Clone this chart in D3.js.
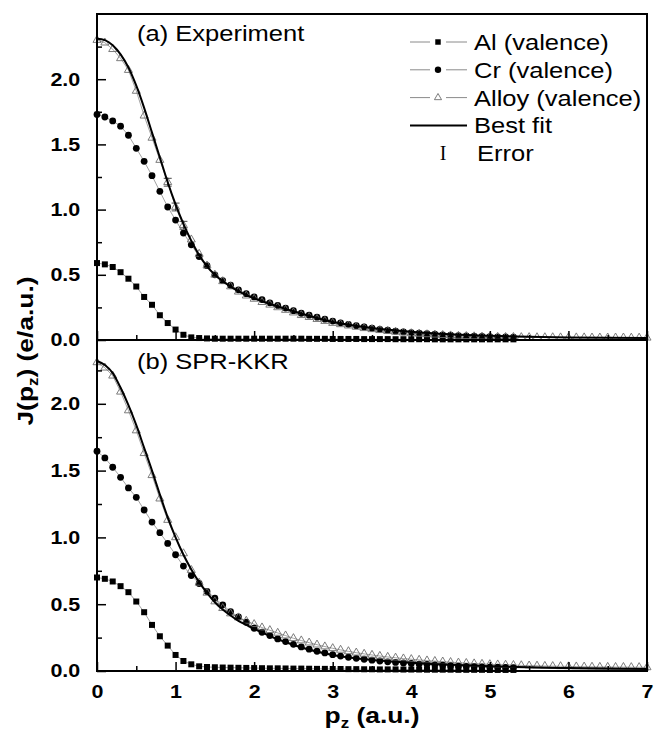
<!DOCTYPE html>
<html>
<head>
<meta charset="utf-8">
<script src="https://cdn.jsdelivr.net/npm/d3@7/dist/d3.min.js"></script>
<style>
body { margin: 0; background: #fff; }
svg { display: block; }
</style>
</head>
<body>
<script>
// momentum grid (a.u.)
const pz = [0.0,0.1,0.2,0.3,0.4,0.5,0.6,0.7,0.8,0.9,
    1.0,1.1,1.2,1.3,1.4,1.5,1.6,1.7,1.8,1.9,
    2.0,2.1,2.2,2.3,2.4,2.5,2.6,2.7,2.8,2.9,
    3.0,3.1,3.2,3.3,3.4,3.5,3.6,3.7,3.8,3.9,
    4.0,4.1,4.2,4.3,4.4,4.5,4.6,4.7,4.8,4.9,
    5.0,5.1,5.2,5.3,5.4,5.5,5.6,5.7,5.8,5.9,
    6.0,6.1,6.2,6.3,6.4,6.5,6.6,6.7,6.8,6.9,
    7.0];

// (a) Experiment
const alA = [0.59,0.58,0.56,0.52,0.47,0.41,0.33,0.27,0.19,0.13,
    0.08,0.04,0.02,0.015,0.012,0.01,0.01,0.01,0.01,0.01,
    0.01,0.01,0.01,0.01,0.01,0.01,0.01,0.009,0.009,0.009,
    0.008,0.008,0.008,0.008,0.007,0.007,0.007,0.007,0.006,0.006,
    0.006,0.006,0.006,0.005,0.005,0.005,0.005,0.005,0.005,0.005,
    0.005,0.005,0.005,0.005];
const crA = [1.73,1.71,1.68,1.64,1.57,1.47,1.37,1.26,1.14,1.02,
    0.92,0.82,0.73,0.64,0.57,0.50,0.455,0.42,0.385,0.355,
    0.33,0.31,0.285,0.265,0.245,0.225,0.205,0.19,0.175,0.16,
    0.145,0.132,0.12,0.11,0.10,0.09,0.082,0.075,0.068,0.062,
    0.057,0.052,0.048,0.044,0.04,0.037,0.034,0.031,0.029,0.027,
    0.025,0.024,0.023,0.022];
const alloyA = [2.30,2.28,2.23,2.16,2.07,1.91,1.72,1.55,1.38,1.21,
    1.02,0.88,0.77,0.66,0.57,0.50,0.45,0.41,0.37,0.34,
    0.315,0.29,0.27,0.25,0.23,0.21,0.19,0.175,0.16,0.145,
    0.13,0.12,0.11,0.10,0.09,0.082,0.075,0.068,0.062,0.056,
    0.051,0.047,0.043,0.04,0.037,0.034,0.031,0.029,0.027,0.025,
    0.024,0.023,0.022,0.022,0.021,0.021,0.02,0.02,0.02,0.019,
    0.019,0.019,0.019,0.018,0.018,0.018,0.018,0.018,0.017,0.017,
    0.017];

// (b) SPR-KKR
const alB = [0.70,0.69,0.67,0.635,0.59,0.52,0.44,0.345,0.26,0.19,
    0.12,0.075,0.05,0.035,0.03,0.028,0.026,0.025,0.024,0.023,
    0.022,0.021,0.02,0.02,0.019,0.018,0.018,0.017,0.016,0.016,
    0.015,0.015,0.014,0.014,0.013,0.013,0.012,0.012,0.012,0.011,
    0.011,0.011,0.01,0.01,0.01,0.01,0.009,0.009,0.009,0.009,
    0.008,0.008,0.008,0.008];
const crB = [1.645,1.595,1.525,1.45,1.37,1.30,1.205,1.115,1.035,0.955,
    0.87,0.785,0.715,0.655,0.595,0.545,0.495,0.445,0.405,0.365,
    0.32,0.29,0.265,0.24,0.22,0.20,0.18,0.163,0.148,0.135,
    0.122,0.112,0.103,0.095,0.088,0.081,0.075,0.069,0.064,0.06,
    0.056,0.052,0.049,0.046,0.043,0.04,0.037,0.035,0.033,0.031,
    0.029,0.028,0.027,0.026];
const alloyB = [2.31,2.27,2.21,2.09,1.95,1.80,1.63,1.465,1.29,1.13,
    1.00,0.88,0.755,0.66,0.585,0.52,0.47,0.43,0.40,0.375,
    0.35,0.325,0.305,0.285,0.265,0.245,0.228,0.212,0.197,0.183,
    0.17,0.158,0.147,0.137,0.128,0.12,0.112,0.105,0.099,0.093,
    0.088,0.083,0.078,0.074,0.07,0.066,0.062,0.059,0.056,0.053,
    0.05,0.048,0.046,0.044,0.042,0.04,0.039,0.037,0.036,0.035,
    0.034,0.033,0.032,0.031,0.03,0.03,0.029,0.029,0.028,0.028,
    0.027];

// best fit curves
const fitP = [0.0,0.1,0.2,0.3,0.4,0.5,0.6,0.7,0.8,0.9,1.0,
    1.1,1.2,1.3,1.4,1.5,1.6,1.7,1.8,1.9,2.0,
    2.5,3.0,3.5,4.0,4.5,5.0,5.5,6.0,6.5,7.0];
const fitA = [2.31,2.30,2.26,2.19,2.09,1.95,1.78,1.59,1.40,1.21,1.04,
    0.89,0.76,0.65,0.565,0.50,0.45,0.41,0.375,0.345,0.32,
    0.22,0.138,0.092,0.063,0.044,0.032,0.025,0.02,0.017,0.015];
const fitB = [2.32,2.29,2.23,2.12,1.99,1.84,1.67,1.50,1.32,1.15,1.00,
    0.87,0.76,0.665,0.585,0.515,0.46,0.415,0.375,0.345,0.315,
    0.195,0.12,0.083,0.062,0.046,0.036,0.028,0.022,0.018,0.015];

// error bars on the measured alloy profile
const errP = [0.9, 1.0, 1.1];
const errA = [0.03, 0.03, 0.03];

const yTicks = [0, 0.5, 1.0, 1.5, 2.0];
const yMinor = [0.25, 0.75, 1.25, 1.75, 2.25];
const xTicks = [0, 1, 2, 3, 4, 5, 6, 7];
const xMinor = [0.5, 1.5, 2.5, 3.5, 4.5, 5.5, 6.5];
const legendLabels = ['Al (valence)', 'Cr (valence)', 'Alloy (valence)', 'Best fit', 'Error'];

const chartConfig = {
    w: 655,
    h: 733,
    left: 97,
    right: 647,
    top: 14,
    mid: 340,
    bottom: 671
};

const font = "'Liberation Sans', Arial, sans-serif";
const wide = 1.16; // the original lettering is a bit wider than Liberation Sans

function pts(vals) {
    return vals.map(function(v, i) { return { p: pz[i], v: v }; });
}

// text placed at (x, y) and stretched horizontally
function label(sel, x, y, str, size, bold) {
    return sel.append('text')
        .attr('transform', 'translate(' + x + ',' + y + ') scale(' + wide + ',1)')
        .attr('font-family', font)
        .attr('font-weight', bold ? 'bold' : 'normal')
        .attr('font-size', size + 'px')
        .attr('fill', '#000')
        .text(str);
}

function drawPanel(svg, x, y, series, fit, title, titleY, showXLabels) {

    const g = svg.append('g');

    // connecting lines
    const thin = d3.line()
        .x(function(d) { return x(d.p); })
        .y(function(d) { return y(d.v); });

    [series.al, series.cr, series.alloy].forEach(function(s) {
        g.append('path')
            .datum(pts(s))
            .attr('d', thin)
            .attr('fill', 'none')
            .attr('stroke', '#8a8a8a')
            .attr('stroke-width', 0.8);
    });

    // markers
    g.selectAll('.al')
        .data(pts(series.al))
        .enter()
        .append('path')
        .attr('d', d3.symbol().type(d3.symbolSquare).size(36))
        .attr('transform', function(d) { return 'translate(' + x(d.p) + ',' + y(d.v) + ')'; })
        .attr('fill', '#000');

    g.selectAll('.cr')
        .data(pts(series.cr))
        .enter()
        .append('circle')
        .attr('cx', function(d) { return x(d.p); })
        .attr('cy', function(d) { return y(d.v); })
        .attr('r', 3.4)
        .attr('fill', '#000');

    g.selectAll('.alloy')
        .data(pts(series.alloy))
        .enter()
        .append('path')
        .attr('d', d3.symbol().type(d3.symbolTriangle).size(28))
        .attr('transform', function(d) { return 'translate(' + x(d.p) + ',' + y(d.v) + ')'; })
        .attr('fill', 'none')
        .attr('stroke', '#6e6e6e')
        .attr('stroke-width', 0.9);

    // error bars
    if (series.err) {
        series.err.forEach(function(e, i) {
            const idx = pz.indexOf(errP[i]);
            const v = series.alloy[idx];
            const xp = x(errP[i]);
            g.append('path')
                .attr('d', 'M' + (xp - 4) + ',' + y(v + e) + 'H' + (xp + 4) +
                    'M' + xp + ',' + y(v + e) + 'V' + y(v - e) +
                    'M' + (xp - 4) + ',' + y(v - e) + 'H' + (xp + 4))
                .attr('stroke', '#333')
                .attr('stroke-width', 0.9)
                .attr('fill', 'none');
        });
    }

    // best fit
    const fitLine = d3.line()
        .x(function(d) { return x(d.p); })
        .y(function(d) { return y(d.v); })
        .curve(d3.curveMonotoneX);

    g.append('path')
        .datum(fitP.map(function(p, i) { return { p: p, v: fit[i] }; }))
        .attr('d', fitLine)
        .attr('fill', 'none')
        .attr('stroke', '#000')
        .attr('stroke-width', 2);

    // AXES
    const yAxis = d3.axisLeft(y).tickValues(yTicks).tickSize(-9).tickPadding(14.5)
        .tickFormat(d3.format('.1f'));
    const yAxisMinor = d3.axisLeft(y).tickValues(yMinor).tickSize(-5).tickFormat('');

    svg.append('g')
        .attr('transform', 'translate(' + chartConfig.left + ',0)')
        .call(yAxis);
    svg.append('g')
        .attr('transform', 'translate(' + chartConfig.left + ',0)')
        .call(yAxisMinor);

    const baseY = y(0);
    const xAxis = d3.axisBottom(x).tickValues(xTicks).tickSize(-9).tickPadding(14)
        .tickFormat(showXLabels ? d3.format('d') : '');
    const xAxisMinor = d3.axisBottom(x).tickValues(xMinor).tickSize(-5).tickFormat('');

    svg.append('g')
        .attr('transform', 'translate(0,' + baseY + ')')
        .call(xAxis);
    svg.append('g')
        .attr('transform', 'translate(0,' + baseY + ')')
        .call(xAxisMinor);

    svg.selectAll('.domain').remove();
    svg.selectAll('.tick line').attr('stroke', '#000').attr('stroke-width', 1.5);
    svg.selectAll('.tick text')
        .attr('font-family', font)
        .attr('font-weight', 'bold')
        .attr('font-size', '18.5px')
        .attr('transform', 'scale(' + wide + ',1)')
        .attr('fill', '#000');

    // panel label
    label(svg, 137, titleY, title, 22, false);
}

function d3Draw() {

    const svg = d3.select('body')
        .append('svg')
        .attr('width', chartConfig.w)
        .attr('height', chartConfig.h);

    const xScale = d3.scaleLinear()
        .domain([0, 7])
        .range([chartConfig.left, chartConfig.right]);

    const yA = d3.scaleLinear()
        .domain([0, 2.5])
        .range([chartConfig.mid, chartConfig.top]);

    const yB = d3.scaleLinear()
        .domain([0, 2.5])
        .range([chartConfig.bottom, 337]);

    drawPanel(svg, xScale, yA, { al: alA, cr: crA, alloy: alloyA, err: errA }, fitA,
        '(a) Experiment', 41, false);
    drawPanel(svg, xScale, yB, { al: alB, cr: crB, alloy: alloyB }, fitB,
        '(b) SPR-KKR', 369, true);

    // FRAME
    svg.append('rect')
        .attr('x', chartConfig.left)
        .attr('y', chartConfig.top)
        .attr('width', chartConfig.right - chartConfig.left)
        .attr('height', chartConfig.bottom - chartConfig.top)
        .attr('fill', 'none')
        .attr('stroke', '#000')
        .attr('stroke-width', 2);
    svg.append('line')
        .attr('x1', chartConfig.left)
        .attr('x2', chartConfig.right)
        .attr('y1', chartConfig.mid)
        .attr('y2', chartConfig.mid)
        .attr('stroke', '#000')
        .attr('stroke-width', 2);

    // AXIS TITLES
    const yt = svg.append('text')
        .attr('transform', 'translate(33,351) rotate(-90) scale(1.2,1)')
        .attr('text-anchor', 'middle')
        .attr('font-family', font)
        .attr('font-weight', 'bold')
        .attr('font-size', '22px')
        .attr('fill', '#000');
    yt.append('tspan').text('J(p');
    yt.append('tspan').attr('font-size', '14px').attr('dy', 5).text('z');
    yt.append('tspan').attr('dy', -5).text(') (e/a.u.)');

    const xt = svg.append('text')
        .attr('transform', 'translate(' + (chartConfig.left + chartConfig.right) / 2 + ',723) scale(1.2,1)')
        .attr('text-anchor', 'middle')
        .attr('font-family', font)
        .attr('font-weight', 'bold')
        .attr('font-size', '22px')
        .attr('fill', '#000');
    xt.append('tspan').text('p');
    xt.append('tspan').attr('font-size', '14px').attr('dy', 5).text('z');
    xt.append('tspan').attr('dy', -5).text(' (a.u.)');

    // LEGEND
    const lg = svg.append('g');
    const lx0 = 410, lx1 = 467, lxm = 438, ltx = 474;
    legendLabels.forEach(function(name, i) {
        const cy = 42 + i * 27.8;
        const row = lg.append('g');
        if (i < 3) {
            row.append('path')
                .attr('d', 'M' + lx0 + ',' + cy + 'H' + (lxm - 8) + 'M' + (lxm + 8) + ',' + cy + 'H' + lx1)
                .attr('stroke', '#8a8a8a')
                .attr('stroke-width', 1);
        }
        if (i === 0) {
            row.append('path')
                .attr('d', d3.symbol().type(d3.symbolSquare).size(30))
                .attr('transform', 'translate(' + lxm + ',' + cy + ')')
                .attr('fill', '#000');
        } else if (i === 1) {
            row.append('circle').attr('cx', lxm).attr('cy', cy).attr('r', 3.2).attr('fill', '#000');
        } else if (i === 2) {
            row.append('path')
                .attr('d', d3.symbol().type(d3.symbolTriangle).size(22))
                .attr('transform', 'translate(' + lxm + ',' + cy + ')')
                .attr('fill', 'none')
                .attr('stroke', '#6e6e6e')
                .attr('stroke-width', 0.9);
        } else if (i === 3) {
            row.append('line')
                .attr('x1', lx0).attr('x2', lx1).attr('y1', cy).attr('y2', cy)
                .attr('stroke', '#000').attr('stroke-width', 2);
        } else {
            row.append('text')
                .attr('x', lxm + 5)
                .attr('y', cy + 7)
                .attr('text-anchor', 'middle')
                .attr('font-family', "'Liberation Serif', 'DejaVu Serif', serif")
                .attr('font-size', '20px')
                .attr('fill', '#000')
                .text('I');
        }
        label(row, i === 4 ? ltx + 3 : ltx, cy + 8, name, 22, false);
    });
}

d3Draw();
</script>
</body>
</html>
